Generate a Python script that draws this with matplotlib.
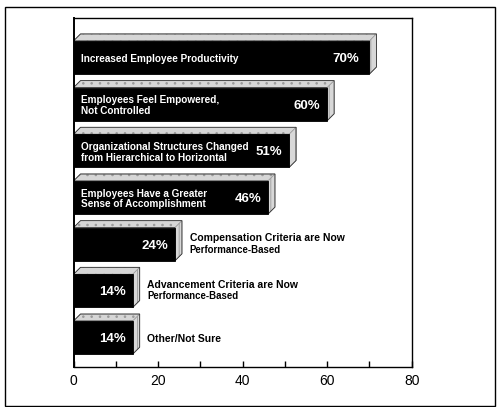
import matplotlib
matplotlib.use("Agg")
import matplotlib.pyplot as plt
from matplotlib.patches import Polygon, Rectangle

plt.rcParams['font.family'] = ['Liberation Sans', 'DejaVu Sans']
plt.rcParams['hatch.linewidth'] = 0.6

categories = [
    ("Increased Employee Productivity", None),
    ("Employees Feel Empowered,\nNot Controlled", None),
    ("Organizational Structures Changed\nfrom Hierarchical to Horizontal", None),
    ("Employees Have a Greater\nSense of Accomplishment", None),
    ("Compensation Criteria are Now", "Performance-Based"),
    ("Advancement Criteria are Now", "Performance-Based"),
    ("Other/Not Sure", None),
]
values = [70, 60, 51, 46, 24, 14, 14]
inside = [True, True, True, True, False, False, False]
xticks = [0, 20, 40, 60, 80]
minor_xticks = [10, 30, 50, 70]

W, H = 497, 407
L, R, T, B = 73.5, 411.7, 18.3, 367.0
fig = plt.figure(figsize=(W/100, H/100), dpi=100)
ax = fig.add_axes([L/W, 1-B/H, (R-L)/W, (B-T)/H])
ax.set_xlim(0, 80)
y0, y1 = 6.63, -0.84
ax.set_ylim(y0, y1)

# pixel-based depth converted to data units
px_x = 80 / (R - L)
px_y = (y0 - y1) / (B - T)
dx = 7 * px_x
dy = 7 * px_y
h = 0.71

for i, (v, (lab, sub), ins) in enumerate(zip(values, categories, inside)):
    top = i - h/2
    bot = i + h/2
    # top face
    ax.add_patch(Polygon([(0, top), (dx, top - dy), (v + dx, top - dy), (v, top)],
                         closed=True, facecolor='#d6d6d6', edgecolor='#9a9a9a',
                         lw=0.5, hatch='..', zorder=2))
    # side face
    ax.add_patch(Polygon([(v, top), (v + dx, top - dy), (v + dx, bot - dy), (v, bot)],
                         closed=True, facecolor='#d8d8d8', edgecolor='#9a9a9a',
                         lw=0.5, hatch='||', zorder=2))
    # outlines
    ax.add_patch(Polygon([(0, top), (dx, top - dy), (v + dx, top - dy), (v + dx, bot - dy), (v, bot), (v, top)],
                         closed=True, fill=False, edgecolor='#333333', lw=0.6, zorder=2.5))
    # front face
    ax.add_patch(Rectangle((0, top), v, h, facecolor='black', edgecolor='black',
                           lw=0.6, zorder=3))
    pad = 2.5 if i == 0 else 1.6
    ax.text(v - pad, i + 0.03, f"{v}%", color='white', fontsize=9.5, fontweight='bold',
            ha='right', va='center', zorder=4)
    if ins:
        ax.text(1.7, i + 0.03, lab, color='white', fontsize=7.2, fontweight='bold',
                ha='left', va='center', linespacing=1.1, zorder=4)
    else:
        if sub:
            ax.text(v + dx + 1.8, i - 0.02, lab, color='black', fontsize=7.5,
                    fontweight='bold', ha='left', va='bottom', zorder=4)
            ax.text(v + dx + 1.8, i + 0.01, sub, color='black', fontsize=6.9,
                    fontweight='bold', ha='left', va='top', zorder=4)
        else:
            ax.text(v + dx + 1.8, i + 0.03, lab, color='black', fontsize=7.5,
                    fontweight='bold', ha='left', va='center', zorder=4)

for s in ax.spines.values():
    s.set_linewidth(1.0)
ax.spines['left'].set_linewidth(1.4)
ax.set_yticks([])
ax.set_xticks(xticks)
ax.set_xticks(minor_xticks, minor=True)
ax.tick_params(axis='x', which='both', direction='in', length=4, width=1, labelsize=10, pad=5)

fig.patches.append(Rectangle((5/W, 1-405.5/H), 490/W, 398.5/H, transform=fig.transFigure,
                             fill=False, edgecolor='black', lw=1.0))

fig.savefig("out.png", dpi=100)
